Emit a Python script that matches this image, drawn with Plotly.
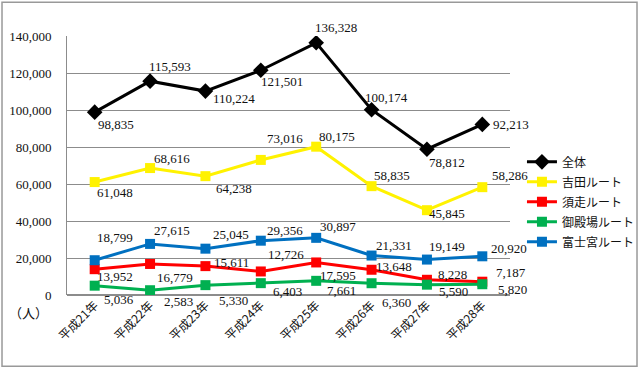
import plotly.graph_objects as go

categories = ["平成21年", "平成22年", "平成23年", "平成24年", "平成25年", "平成26年", "平成27年", "平成28年"]
zentai = [98835, 115593, 110224, 121501, 136328, 100174, 78812, 92213]
yoshida = [61048, 68616, 64238, 73016, 80175, 58835, 45845, 58286]
subashiri = [13952, 16779, 15611, 12726, 17595, 13648, 8228, 7187]
gotemba = [5036, 2583, 5330, 6403, 7661, 6360, 5590, 5820]
fujinomiya = [18799, 27615, 25045, 29356, 30897, 21331, 19149, 20920]
y_ticks = [0, 20000, 40000, 60000, 80000, 100000, 120000, 140000]

series = [
    ("全体", zentai, "#000000", "diamond", 12),
    ("吉田ルート", yoshida, "#FFF200", "square", 10),
    ("須走ルート", subashiri, "#FF0000", "square", 10),
    ("御殿場ルート", gotemba, "#00B050", "square", 10),
    ("富士宮ルート", fujinomiya, "#0070C0", "square", 10),
]

# label offsets (pixels) relative to each point: (dx, dy up)
offsets = {
    "全体": [(21, -12), (20, 15), (29, -7), (21, -11), (20, 15), (15, 12), (20, -13), (29, 0)],
    "吉田ルート": [(20, -10), (22, 10), (29, -12), (24, 21), (21, 10), (20, 11), (20, -3), (28, 12)],
    "須走ルート": [(20, -7), (25, -14), (26, 4), (25, 17), (22, -13), (22, 3), (26, 5), (29, 9)],
    "御殿場ルート": [(24, -14), (28, -11), (28, -15), (27, -8), (25, -10), (25, -19), (27, -7), (30, -5)],
    "富士宮ルート": [(20, 23), (22, 13), (26, 14), (24, 10), (22, 11), (22, 10), (20, 13), (27, 8)],
}

serif = "Liberation Serif, DejaVu Serif, serif"
jp = "Noto Sans CJK JP, sans-serif"

fig = go.Figure()
annotations = []
for name, vals, color, sym, size in series:
    fig.add_trace(go.Scatter(
        x=categories, y=vals, name=name, mode="lines+markers", legendgroup=name,
        line=dict(color=color, width=3),
        marker=dict(symbol=sym, size=size, color=color),
    ))
    for c, v, (dx, dy) in zip(categories, vals, offsets[name]):
        annotations.append(dict(
            x=c, y=v, xref="x", yref="y", text=f"{v:,}", showarrow=False,
            xshift=dx, yshift=dy, font=dict(family=serif, size=13, color="#111"),
        ))

annotations.append(dict(
    x=-0.086, y=-0.068, xref="paper", yref="paper", text="（人）", showarrow=False,
    font=dict(family=jp, size=13, color="#111"), xanchor="center", yanchor="middle",
))

fig.update_layout(
    width=640, height=369,
    margin=dict(l=67, r=130, t=35.7, b=74.3, autoexpand=False),
    paper_bgcolor="white", plot_bgcolor="white",
    showlegend=True,
    legend=dict(
        x=1.027, y=0.57, xanchor="left", yanchor="top",
        font=dict(family=jp, size=12, color="#111"),
        bgcolor="rgba(0,0,0,0)", tracegroupgap=1, itemwidth=30,
    ),
    annotations=annotations,
    shapes=[dict(
        type="rect", xref="paper", yref="paper",
        x0=-0.1467, x1=1.2867, y0=-0.275, y1=1.13,
        line=dict(color="#999", width=1.5), fillcolor="rgba(0,0,0,0)", layer="below",
    )],
)
fig.update_xaxes(
    type="category", range=[-0.5, len(categories) - 0.5],
    tickangle=-45, tickfont=dict(family=jp, size=12, color="#111"),
    showgrid=False, showline=False, ticks="", zeroline=False,
)
fig.update_yaxes(
    range=[0, 140000], tickvals=y_ticks, ticktext=[f"{t:,}" for t in y_ticks],
    tickfont=dict(family=serif, size=13, color="#111"),
    showgrid=True, gridcolor="#8c8c8c", gridwidth=1,
    showline=True, linecolor="#8c8c8c", linewidth=1,
    zeroline=True, zerolinecolor="#8c8c8c", ticks="", ticklen=0,
    ticklabelstandoff=12,
)

fig.write_html("out.html", config={"displayModeBar": False},
               post_script="document.body.style.margin='0';")
